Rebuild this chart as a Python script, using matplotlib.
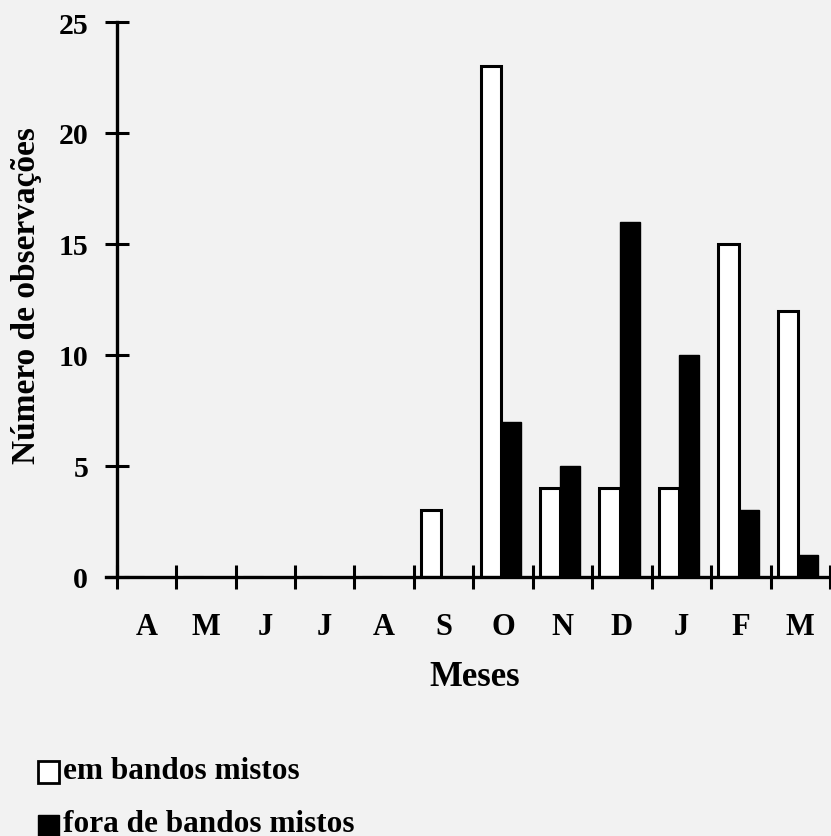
import matplotlib
matplotlib.use("Agg")
import matplotlib.pyplot as plt
from matplotlib.patches import Rectangle
import numpy as np

months = ['A', 'M', 'J', 'J', 'A', 'S', 'O', 'N', 'D', 'J', 'F', 'M']
em_bandos = [0, 0, 0, 0, 0, 3, 23, 4, 4, 4, 15, 12]
fora_bandos = [0, 0, 0, 0, 0, 0, 7, 5, 16, 10, 3, 1]
yticks = [0, 5, 10, 15, 20, 25]

BG = '#f2f2f2'
FONT = 'Liberation Serif'
W, H = 831, 837

fig = plt.figure(figsize=(W / 100, H / 100), dpi=100, facecolor=BG)
# axes placement in pixels
x_left_px, x_right_px = 106, 836
y_top_px, y_zero_px = 23, 578
ax = fig.add_axes([x_left_px / W, (H - y_zero_px) / H,
                   (x_right_px - x_left_px) / W, (y_zero_px - y_top_px) / H])
ax.set_facecolor(BG)

centers = np.arange(len(months)) + 0.5
bw = 0.34
off = 0.04
ax.bar(centers - off - bw / 2, em_bandos, width=bw, facecolor='white',
       edgecolor='black', linewidth=2.2, zorder=3)
ax.bar(centers - off + bw / 2, fora_bandos, width=bw, facecolor='black',
       edgecolor='black', linewidth=1.0, zorder=3)

ax.set_xlim(-0.18, 12.1)
ax.set_ylim(0, 25)

for s in ['top', 'right']:
    ax.spines[s].set_visible(False)
ax.spines['left'].set_position(('data', 0))
ax.spines['left'].set_linewidth(2.4)
ax.spines['bottom'].set_linewidth(2.4)
ax.spines['left'].set_zorder(5)
ax.spines['bottom'].set_zorder(5)

ax.set_yticks(yticks)
ax.set_yticklabels([str(v) for v in yticks])
ax.tick_params(axis='y', direction='inout', length=17, width=2.2, pad=12,
               labelsize=21.5)
ax.set_xticks(np.arange(0, 13))
ax.set_xticklabels([''] * 13)
ax.set_xticks(centers, minor=True)
ax.set_xticklabels(months, minor=True)
ax.tick_params(axis='x', which='major', direction='inout', length=17, width=2.2)
ax.tick_params(axis='x', which='minor', length=0, pad=25, labelsize=22)

for lab in ax.get_xticklabels(minor=True) + ax.get_yticklabels():
    lab.set_fontfamily(FONT)
    lab.set_fontweight('bold')

fig.text(475 / W, 1 - 678 / H, 'Meses', ha='center', va='center',
         fontsize=25, fontfamily=FONT, fontweight='bold')
fig.text(27 / W, 1 - 296 / H, 'Número de observações', rotation=90,
         ha='center', va='center', fontsize=24, fontfamily=FONT,
         fontweight='bold')

# legend
fig.patches.append(Rectangle((38 / W, 1 - 784 / H), 21 / W, 22 / H,
                             transform=fig.transFigure, facecolor='white',
                             edgecolor='black', linewidth=2.0))
fig.text(63 / W, 1 - 772 / H, 'em bandos mistos', ha='left', va='center',
         fontsize=22.5, fontfamily=FONT, fontweight='bold')
fig.patches.append(Rectangle((38 / W, 1 - 838 / H), 21 / W, 22 / H,
                             transform=fig.transFigure, facecolor='black',
                             edgecolor='black', linewidth=1.0))
fig.text(63 / W, 1 - 825 / H, 'fora de bandos mistos', ha='left', va='center',
         fontsize=22.5, fontfamily=FONT, fontweight='bold')

fig.savefig('out.png', dpi=100, facecolor=BG)
